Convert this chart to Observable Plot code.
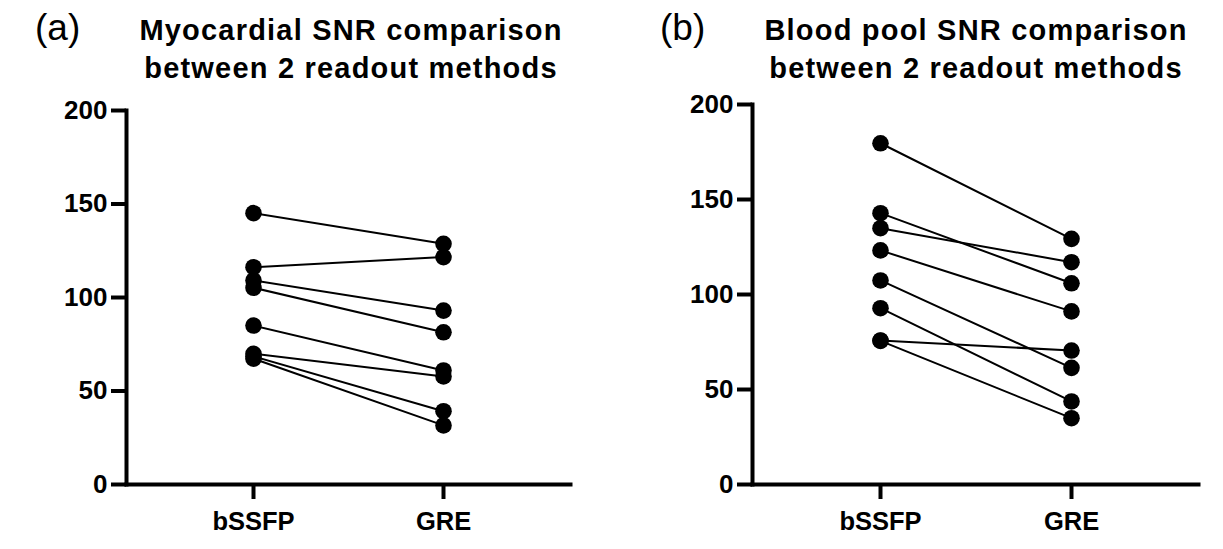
<!DOCTYPE html>
<html>
<head>
<meta charset="utf-8">
<script src="https://cdn.jsdelivr.net/npm/d3@7"></script>
<script src="https://cdn.jsdelivr.net/npm/@observablehq/plot@0.6"></script>
<style>
  html, body { margin: 0; padding: 0; background: #fff; }
  #root { position: relative; width: 1223px; height: 549px; overflow: hidden; font-family: "Liberation Sans", Arial, sans-serif; color: #000; }
  .tag { position: absolute; font-size: 37px; font-weight: normal; line-height: 1; }
  .title { position: absolute; font-size: 29px; font-weight: bold; letter-spacing: 1.2px; text-align: center; line-height: 38px; white-space: nowrap; }
  .ylab { position: absolute; font-size: 25px; font-weight: bold; transform: translate(-50%, -50%) rotate(-90deg); white-space: nowrap; }
  .panel { position: absolute; top: 90px; }
</style>
</head>
<body>
<div id="root">
  <div class="tag" style="left:35px; top:9px;">(a)</div>
  <div class="title" style="left:351px; top:11px; transform: translateX(-50%);">Myocardial SNR comparison<br>between 2 readout methods</div>
  <div class="tag" style="left:660px; top:9px;">(b)</div>
  <div class="title" style="left:976px; top:11px; transform: translateX(-50%);">Blood pool SNR comparison<br>between 2 readout methods</div>
  <div class="ylab" style="left:35px; top:289px;">SNR</div>
  <div class="ylab" style="left:660px; top:289px;">SNR</div>
  <div class="panel" id="pa" style="left:0px;"></div>
  <div class="panel" id="pb" style="left:600px;"></div>
</div>
<script>
// ---- data ----
const methods = ["bSSFP", "GRE"];
const yTicks = [0, 50, 100, 150, 200];

// (a) Myocardial SNR, one entry per subject
const myoBSSFP = [145.1, 116.2, 109.1, 105.2, 85.0, 69.9, 68.5, 67.3];
const myoGRE   = [128.7, 121.6, 93.0, 81.4, 61.0, 57.8, 39.2, 31.6];

// (b) Blood pool SNR, one entry per subject
const bloodBSSFP = [179.6, 142.8, 134.9, 123.2, 107.4, 92.8, 75.8, 75.6];
const bloodGRE   = [129.3, 105.9, 117.0, 91.1, 61.4, 43.7, 70.5, 34.9];

function longForm(a, b) {
  const rows = [];
  a.forEach((v, i) => {
    rows.push({subject: i, method: methods[0], snr: v});
    rows.push({subject: i, method: methods[1], snr: b[i]});
  });
  return rows;
}

function panel(rows, opts) {
  return Plot.plot({
    width: opts.width,
    height: 459,
    marginLeft: opts.marginLeft,
    marginRight: opts.marginRight,
    marginTop: opts.marginTop,
    marginBottom: 65,
    style: {fontFamily: '"Liberation Sans", Arial, sans-serif', color: "#000", background: "#fff", overflow: "visible"},
    x: {type: "point", domain: methods, padding: 0.666},
    y: {domain: [0, 200]},
    marks: [
      Plot.axisY({ticks: yTicks, tickSize: 15, tickPadding: 4, strokeWidth: 4, fontSize: 26, fontWeight: "bold", label: null}),
      Plot.axisX({tickSize: 15, tickPadding: 12, strokeWidth: 4, fontSize: 25.5, fontWeight: "bold", label: null}),
      Plot.frame({anchor: "left", strokeWidth: 4, strokeLinecap: "square"}),
      Plot.frame({anchor: "bottom", strokeWidth: 4, strokeLinecap: "square"}),
      Plot.line(rows, {x: "method", y: "snr", z: "subject", stroke: "#000", strokeWidth: 2}),
      Plot.dot(rows, {x: "method", y: "snr", r: 8.3, fill: "#000", stroke: "none"})
    ]
  });
}

document.getElementById("pa").appendChild(panel(longForm(myoBSSFP, myoGRE), {width: 600, marginLeft: 126, marginRight: 30, marginTop: 20}));
document.getElementById("pb").appendChild(panel(longForm(bloodBSSFP, bloodGRE), {width: 623, marginLeft: 152, marginRight: 25, marginTop: 14}));
</script>
</body>
</html>
